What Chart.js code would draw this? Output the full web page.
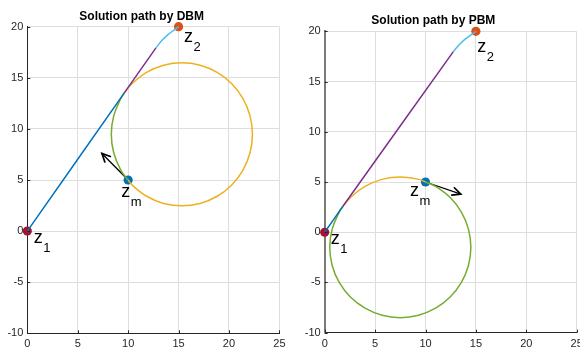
<!DOCTYPE html>
<html>
<head>
<meta charset="utf-8">
<script src="https://cdn.jsdelivr.net/npm/chart.js@4/dist/chart.umd.min.js"></script>
<style>
  html, body { margin:0; padding:0; background:#fff; overflow:hidden; }
  body { width:580px; height:353px; position:relative; }
  .box { position:absolute; top:0; height:353px; }
  #b1 { left:0; width:290px; }
  #b2 { left:290px; width:310px; }
</style>
</head>
<body>
<div class="box" id="b1"><canvas id="c1"></canvas></div>
<div class="box" id="b2"><canvas id="c2"></canvas></div>
<script>
// ---------- data ----------
const titles = ['Solution path by DBM', 'Solution path by PBM'];
const xTicks = [0, 5, 10, 15, 20, 25];
const yTicks = [-10, -5, 0, 5, 10, 15, 20];

// key points: z1, z2, zm
const keyX = [0, 15, 10];
const keyY = [0, 20, 5];
const subs = ['1', '2', 'm'];

// DBM path pieces
const dbmBlueX = [0, 9.62];
const dbmBlueY = [0, 13.53];
const dbmPurpleX = [9.62, 12.76];
const dbmPurpleY = [13.53, 17.93];
const dbmCyanX = [12.76, 13.34, 13.96, 14.65, 15];
const dbmCyanY = [17.94, 18.64, 19.23, 19.74, 20];
const dbmGreenX = [10, 9.27, 8.57, 8.33, 8.57, 9.27, 9.62];
const dbmGreenY = [5, 5.97, 7.66, 9.47, 11.28, 12.97, 13.53];
const dbmOrangeX = [9.62, 10.38, 11.83, 13.52, 15.33, 17.14, 18.83, 20.28, 21.39, 22.09, 22.33, 22.09, 21.39, 20.28, 18.83, 17.14, 15.33, 13.52, 11.83, 10.38, 10];
const dbmOrangeY = [13.53, 14.42, 15.53, 16.23, 16.47, 16.23, 15.53, 14.42, 12.97, 11.28, 9.47, 7.66, 5.97, 4.52, 3.41, 2.71, 2.47, 2.71, 3.41, 4.52, 5];
const dbmArrowX = [10, 7.4];
const dbmArrowY = [5, 7.6];
const dbmLabelX = [0.65, 15.55, 9.31];
const dbmLabelY = [-1.16, 18.53, 3.37];

// PBM path pieces
const pbmBlueX = [0, 1.79];
const pbmBlueY = [0, 2.56];
const pbmPurpleX = [1.79, 12.76];
const pbmPurpleY = [2.56, 17.98];
const pbmCyanX = [12.76, 13.34, 13.96, 14.65, 15];
const pbmCyanY = [17.98, 18.66, 19.24, 19.74, 20];
const pbmOrangeX = [1.79, 2.55, 4.0, 5.69, 7.5, 9.31, 10];
const pbmOrangeY = [2.56, 3.45, 4.56, 5.26, 5.5, 5.26, 5];
const pbmGreenX = [10, 11.0, 12.45, 13.56, 14.26, 14.5, 14.26, 13.56, 12.45, 11.0, 9.31, 7.5, 5.69, 4.0, 2.55, 1.44, 0.74, 0.5, 0.74, 1.44, 1.79];
const pbmGreenY = [5, 4.56, 3.45, 2.0, 0.31, -1.5, -3.31, -5.0, -6.45, -7.56, -8.26, -8.5, -8.26, -7.56, -6.45, -5.0, -3.31, -1.5, 0.31, 2.0, 2.56];
const pbmArrowX = [10, 13.5];
const pbmArrowY = [5, 3.8];
const pbmLabelX = [0.6, 15.14, 8.46];
const pbmLabelY = [-1.16, 17.97, 3.61];

// ---------- styling ----------
const FONT = '"Liberation Sans", Arial, Helvetica, sans-serif';
const C = { blue:'#0072BD', red:'#D95319', yellow:'#EDB120', purple:'#7E2F8E', green:'#77AC30', cyan:'#4DBEEE', dred:'#A2142F' };
const keyColors = [C.dred, C.red, C.blue];

function seg(xs, ys, color) {
  return { data: xs.map((x, i) => ({ x: x, y: ys[i] })), showLine: true, borderColor: color,
           borderWidth: 1.5, pointRadius: 0, pointHoverRadius: 0, tension: 0.4, fill: false, clip: false };
}
function keyPts() {
  return { data: keyX.map((x, i) => ({ x: x, y: keyY[i] })), showLine: false, pointRadius: 4.6,
           pointBackgroundColor: keyColors, pointBorderWidth: 0, pointHoverRadius: 4.6, clip: false };
}

const deco = {
  id: 'deco',
  beforeDatasetsDraw(chart, args, o) {
    const ctx = chart.ctx, xs = chart.scales.x, ys = chart.scales.y;
    const x0 = xs.getPixelForValue(o.ax[0]), y0 = ys.getPixelForValue(o.ay[0]);
    const x1 = xs.getPixelForValue(o.ax[1]), y1 = ys.getPixelForValue(o.ay[1]);
    const a = Math.atan2(y1 - y0, x1 - x0), L = 9, h = 0.45;
    ctx.save();
    ctx.strokeStyle = '#000'; ctx.lineWidth = 1.3; ctx.lineCap = 'round';
    ctx.beginPath(); ctx.moveTo(x0, y0); ctx.lineTo(x1, y1); ctx.stroke();
    ctx.lineWidth = 1.7;
    ctx.beginPath();
    ctx.moveTo(x1 - L * Math.cos(a - h), y1 - L * Math.sin(a - h));
    ctx.lineTo(x1, y1);
    ctx.lineTo(x1 - L * Math.cos(a + h), y1 - L * Math.sin(a + h));
    ctx.stroke();
    ctx.restore();
  },
  afterDatasetsDraw(chart, args, o) {
    const ctx = chart.ctx, xs = chart.scales.x, ys = chart.scales.y;
    ctx.save();
    ctx.fillStyle = '#000'; ctx.textAlign = 'left'; ctx.textBaseline = 'alphabetic';
    o.lx.forEach((lx, i) => {
      const px = xs.getPixelForValue(lx), py = ys.getPixelForValue(o.ly[i]);
      ctx.font = '18px ' + FONT; ctx.fillText('z', px, py);
      ctx.font = '13px ' + FONT; ctx.fillText(subs[i], px + 9.5, py + 9);
    });
    ctx.strokeStyle = '#262626'; ctx.lineWidth = 1;
    const ca = chart.chartArea;
    ctx.beginPath();
    xTicks.forEach(v => { const p = Math.round(xs.getPixelForValue(v)) + 0.5; ctx.moveTo(p, ca.bottom); ctx.lineTo(p, ca.bottom - 3); });
    yTicks.forEach(v => { const p = Math.round(ys.getPixelForValue(v)) + 0.5; ctx.moveTo(ca.left, p); ctx.lineTo(ca.left + 3, p); });
    ctx.stroke();
    ctx.restore();
  }
};

function makeChart(id, title, sets, arrowX, arrowY, labX, labY, geo) {
  new Chart(document.getElementById(id), {
    type: 'scatter',
    data: { datasets: sets },
    plugins: [deco],
    options: {
      responsive: true, maintainAspectRatio: false, animation: false, events: [],
      layout: { padding: { left: 0, right: geo.padRight, top: 0, bottom: 0 } },
      plugins: {
        legend: { display: false }, tooltip: { enabled: false },
        title: { display: true, text: title, color: '#000',
                 font: { family: FONT, size: 12, weight: 'bold', lineHeight: 1.2 },
                 padding: { top: geo.tTop, bottom: geo.tBottom } },
        deco: { ax: arrowX, ay: arrowY, lx: labX, ly: labY }
      },
      scales: {
        x: { type: 'linear', min: 0, max: 25,
             afterBuildTicks: s => { s.ticks = xTicks.map(v => ({ value: v })); },
             afterFit: s => { s.height = geo.xH; },
             ticks: { color: '#262626', font: { family: FONT, size: 11 }, padding: 4.5, maxRotation: 0 },
             grid: { color: '#dedede', lineWidth: 1, drawTicks: false },
             border: { color: '#262626', width: 1 } },
        y: { type: 'linear', min: -10, max: 20,
             afterBuildTicks: s => { s.ticks = yTicks.map(v => ({ value: v })); },
             afterFit: s => { s.width = geo.yW; },
             ticks: { color: '#262626', font: { family: FONT, size: 11 }, padding: 4 },
             grid: { color: '#dedede', lineWidth: 1, drawTicks: false },
             border: { color: geo.yBorder, width: geo.yBorderW } }
      }
    }
  });
}

makeChart('c1', titles[0], [
  seg(dbmBlueX, dbmBlueY, C.blue),
  seg(dbmPurpleX, dbmPurpleY, C.purple),
  seg(dbmCyanX, dbmCyanY, C.cyan),
  seg(dbmOrangeX, dbmOrangeY, C.yellow),
  seg(dbmGreenX, dbmGreenY, C.green),
  keyPts()
], dbmArrowX, dbmArrowY, dbmLabelX, dbmLabelY,
{ padRight: 6.7, tTop: 9.3, tBottom: 3.0, xH: 19.7, yW: 27.3, yBorder: '#262626', yBorderW: 1 });

makeChart('c2', titles[1], [
  seg(pbmBlueX, pbmBlueY, C.blue),
  seg(pbmPurpleX, pbmPurpleY, C.purple),
  seg(pbmCyanX, pbmCyanY, C.cyan),
  seg(pbmOrangeX, pbmOrangeY, C.yellow),
  seg(pbmGreenX, pbmGreenY, C.green),
  keyPts()
], pbmArrowX, pbmArrowY, pbmLabelX, pbmLabelY,
{ padRight: 23.3, tTop: 13.1, tBottom: 3.8, xH: 20.3, yW: 34.7, yBorder: '#7a7a7a', yBorderW: 2 });
</script>
</body>
</html>
